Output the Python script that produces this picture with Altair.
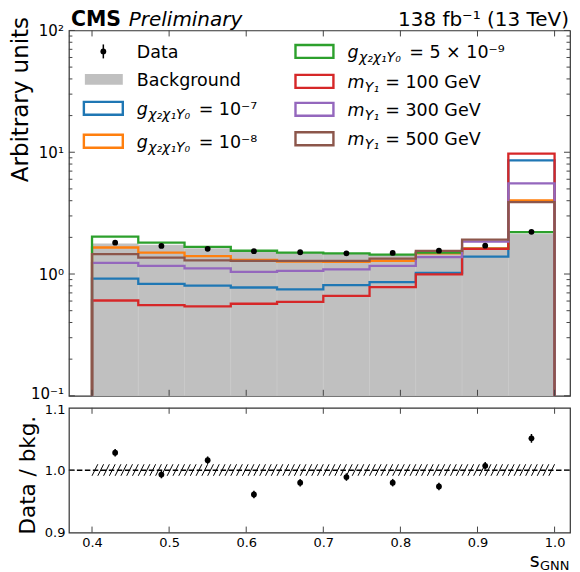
import altair as alt
import numpy as np
import pandas as pd

# ---------------- data ----------------
bin_edges = [0.40, 0.46, 0.52, 0.58, 0.64, 0.70, 0.76, 0.82, 0.88, 0.94, 1.00]
bin_centers = [0.43, 0.49, 0.55, 0.61, 0.67, 0.73, 0.79, 0.85, 0.91, 0.97]

background = [1.77, 1.73, 1.62, 1.52, 1.49, 1.47, 1.45, 1.48, 1.58, 2.13]
data_values = [1.81, 1.70, 1.61, 1.54, 1.51, 1.48, 1.49, 1.555, 1.71, 2.22]
data_errors = [0.010, 0.010, 0.009, 0.009, 0.009, 0.009, 0.009, 0.009, 0.010, 0.013]

ratio_values = [1.028, 0.993, 1.016, 0.961, 0.980, 0.989, 0.980, 0.974, 1.007, 1.051]
ratio_errors = [0.006, 0.006, 0.006, 0.006, 0.006, 0.006, 0.006, 0.006, 0.006, 0.007]
bkg_unc_band = [0.991, 1.0095]

sig_g_1e7 = [0.917, 0.831, 0.804, 0.775, 0.747, 0.811, 0.857, 1.024, 1.389, 8.57]
sig_g_1e8 = [1.651, 1.496, 1.405, 1.304, 1.266, 1.257, 1.280, 1.48, 1.62, 4.03]
sig_g_5e9 = [2.025, 1.812, 1.673, 1.553, 1.496, 1.477, 1.442, 1.496, 1.61, 2.21]
sig_m_100 = [0.606, 0.555, 0.542, 0.570, 0.591, 0.661, 0.781, 0.994, 1.612, 9.76]
sig_m_300 = [1.233, 1.167, 1.112, 1.043, 1.063, 1.091, 1.167, 1.379, 1.846, 5.55]
sig_m_500 = [1.458, 1.363, 1.297, 1.280, 1.280, 1.280, 1.339, 1.55, 1.915, 3.90]

signal_series = [sig_g_1e7, sig_g_1e8, sig_g_5e9, sig_m_100, sig_m_300, sig_m_500]
signal_colors = ["#1f77b4", "#ff7f0e", "#2ca02c", "#d62728", "#9467bd", "#8c564b"]

x_ticks = [0.4, 0.5, 0.6, 0.7, 0.8, 0.9, 1.0]
y_major_ticks = [0.1, 1, 10, 100]
y_tick_labels = ["10⁻¹", "10⁰", "10¹", "10²"]
y_minor_ticks = [m * d for d in (0.1, 1, 10) for m in range(2, 10)]
ratio_ticks = [0.9, 1.0, 1.1]

header_bold = "CMS"
header_italic = "Preliminary"
header_lumi = "138 fb⁻¹ (13 TeV)"
y_title_top = "Arbitrary units"
y_title_ratio = "Data / bkg."
x_title_main = "s"
x_title_sub = "GNN"

# legend entries: (symbol kind, color, pieces)
legend_col1 = [
    ("data", "black", [("Data",)]),
    ("fill", "#c0c0c0", [("Background",)]),
    ("box", signal_colors[0], [("g",), ("χ₂χ₁Υ₀",), ("= 10⁻⁷",)]),
    ("box", signal_colors[1], [("g",), ("χ₂χ₁Υ₀",), ("= 10⁻⁸",)]),
]
legend_col2 = [
    ("box", signal_colors[2], [("g",), ("χ₂χ₁Υ₀",), ("= 5 × 10⁻⁹",)]),
    ("box", signal_colors[3], [("m",), ("Υ₁",), ("= 100 GeV",)]),
    ("box", signal_colors[4], [("m",), ("Υ₁",), ("= 300 GeV",)]),
    ("box", signal_colors[5], [("m",), ("Υ₁",), ("= 500 GeV",)]),
]

# ---------------- layout ----------------
FONT = "DejaVu Sans"
W, H1, H2 = 502, 366, 125
L, T, T2 = 68, 29, 407        # page positions of plot areas
AX = "#444444"

def px(x):
    return x - L

def py(y):
    return y - T

xs = alt.Scale(domain=[0.37, 1.02], nice=False, zero=False)
ys = alt.Scale(type="log", domain=[0.1, 100], nice=False, clamp=True)
rs = alt.Scale(domain=[0.9, 1.1], nice=False, zero=False)

label_expr = "[" + ",".join("'%s'" % s for s in y_tick_labels) + "][round(log(datum.value)/LN10)+1]"

y_axis_top = alt.Axis(
    values=y_major_ticks, labelExpr=label_expr, ticks=True, tickSize=0, tickWidth=0, domain=False, grid=False,
    labelFontSize=15, labelPadding=5.5, labelColor="black", labelFont=FONT, labelOverlap=False,
    labelOffset={"condition": {"test": "datum.value < 0.5", "value": -2}, "value": 0},
    title=y_title_top, titleFontSize=23, titleFontWeight="normal", titleFont=FONT,
    titleColor="black", titleAngle=270, titleAlign="right", titleBaseline="bottom",
    titleX=-36.7, titleY=-14)
x_axis_ratio = alt.Axis(
    values=x_ticks, format=".1f", ticks=True, tickSize=0, tickWidth=0, domain=False, grid=False,
    labelFlush=False, labelFontSize=13, labelPadding=4, labelColor="black", labelFont=FONT, title=None)
y_axis_ratio = alt.Axis(
    values=ratio_ticks, format=".1f", ticks=True, tickSize=0, tickWidth=0, domain=False, grid=False,
    labelFontSize=13, labelPadding=4, labelColor="black", labelFont=FONT, labelOverlap=False,
    labelOffset={"condition": {"test": "datum.value > 1.05", "value": 2}, "value": 0},
    title=y_title_ratio, titleFontSize=21.5, titleFontWeight="normal", titleFont=FONT,
    titleColor="black", titleAngle=270, titleAlign="center", titleBaseline="bottom",
    titleX=-29.8, titleY=67)

one = pd.DataFrame({"a": [0]})

# ---------------- top panel ----------------
bkg_df = pd.DataFrame({"lo": bin_edges[:-1], "hi": bin_edges[1:], "v": background,
                       "floor": [0.1] * len(background)})

bkg_layer = alt.Chart(bkg_df).mark_rect(color="#c0c0c0", stroke="#cacaca", strokeWidth=0.6).encode(
    x=alt.X("lo:Q", scale=xs, axis=None),
    x2="hi:Q",
    y=alt.Y("v:Q", scale=ys, axis=y_axis_top),
    y2="floor:Q",
)

def step_df(vals, floor=0.1):
    xx = [bin_edges[0]]
    yy = [floor]
    for i, v in enumerate(vals):
        xx += [bin_edges[i], bin_edges[i + 1]]
        yy += [v, v]
    xx.append(bin_edges[-1])
    yy.append(floor)
    return pd.DataFrame({"x": xx, "v": yy, "o": list(range(len(xx)))})

line_layers = []
for vals, col in zip(signal_series, signal_colors):
    line_layers.append(
        alt.Chart(step_df(vals)).mark_line(color=col, strokeWidth=2.3, strokeJoin="miter").encode(
            x=alt.X("x:Q", scale=xs, axis=None),
            y=alt.Y("v:Q", scale=ys, axis=y_axis_top),
            order="o:Q",
        )
    )

pts_df = pd.DataFrame({"x": bin_centers, "v": data_values,
                       "lo": [v - e for v, e in zip(data_values, data_errors)],
                       "hi": [v + e for v, e in zip(data_values, data_errors)]})
data_err = alt.Chart(pts_df).mark_rule(color="black", strokeWidth=1.5).encode(
    x=alt.X("x:Q", scale=xs, axis=None), y=alt.Y("lo:Q", scale=ys, axis=y_axis_top), y2="hi:Q")
data_pts = alt.Chart(pts_df).mark_circle(color="black", size=34, opacity=1).encode(
    x=alt.X("x:Q", scale=xs, axis=None), y=alt.Y("v:Q", scale=ys, axis=y_axis_top))

def yticks(vals, scale, axis, x0, x1):
    return alt.Chart(pd.DataFrame({"v": vals})).mark_rule(color=AX, strokeWidth=1).encode(
        y=alt.Y("v:Q", scale=scale, axis=axis), x=alt.value(x0), x2=alt.value(x1))

def xticks(vals, axis, y0, y1):
    return alt.Chart(pd.DataFrame({"x": vals})).mark_rule(color=AX, strokeWidth=1).encode(
        x=alt.X("x:Q", scale=xs, axis=axis), y=alt.value(y0), y2=alt.value(y1))

top_ticks = [
    yticks(y_major_ticks, ys, y_axis_top, 0, 6), yticks(y_minor_ticks, ys, y_axis_top, 0, 3.5),
    yticks(y_major_ticks, ys, y_axis_top, W - 6, W), yticks(y_minor_ticks, ys, y_axis_top, W - 3.5, W),
    xticks(x_ticks, None, 0, 6), xticks(x_ticks, None, H1 - 6, H1),
]

# invisible corner marker pinning the drawing's top-left corner to the page margin
corner = alt.Chart(one).mark_rule(strokeOpacity=0, strokeWidth=0.1).encode(
    x=alt.value(px(8.05)), x2=alt.value(px(8.1)), y=alt.value(py(8.05)), y2=alt.value(py(8.1)))

def text_layer(txt, x, y, size, weight="normal", style="normal", align="left", color="black"):
    return alt.Chart(pd.DataFrame({"t": [txt]})).mark_text(
        font=FONT, fontSize=size, fontWeight=weight, fontStyle=style, align=align,
        baseline="alphabetic", color=color).encode(
        text="t:N", x=alt.value(x), y=alt.value(y))

header = [
    text_layer(header_bold, px(70), py(24.4), 20.5, weight="bold"),
    text_layer(header_italic, px(128), py(24.4), 20, style="italic"),
    text_layer(header_lumi, px(569), py(24.4), 20, align="right"),
]

legend_layers = []
def add_legend(entries, sym_x0, sym_x1, text_x, centers):
    for (kind, col, pieces), c in zip(entries, centers):
        if kind == "data":
            mid = (sym_x0 + sym_x1) / 2
            legend_layers.append(alt.Chart(one).mark_rule(color="black", strokeWidth=1.5).encode(
                x=alt.value(px(mid)), y=alt.value(py(c - 7)), y2=alt.value(py(c + 7))))
            legend_layers.append(alt.Chart(one).mark_circle(color="black", size=34, opacity=1).encode(
                x=alt.value(px(mid)), y=alt.value(py(c))))
        elif kind == "fill":
            legend_layers.append(alt.Chart(one).mark_rect(color=col).encode(
                x=alt.value(px(sym_x0 + 1)), x2=alt.value(px(sym_x1)),
                y=alt.value(py(c - 5.3)), y2=alt.value(py(c + 5.3))))
        else:
            legend_layers.append(alt.Chart(one).mark_rect(fillOpacity=0, stroke=col, strokeWidth=2.4).encode(
                x=alt.value(px(sym_x0)), x2=alt.value(px(sym_x1)),
                y=alt.value(py(c - 6.5)), y2=alt.value(py(c + 6.5))))
        if len(pieces) == 1:
            legend_layers.append(text_layer(pieces[0][0], px(text_x), py(c + 6.5), 17.5))
        else:
            main, sub, rest = pieces
            is_g = main[0] == "g"
            main_w = 11.5 if is_g else 17.5
            legend_layers.append(text_layer(main[0], px(text_x), py(c + 6.5), 17.5, style="italic"))
            legend_layers.append(text_layer(sub[0], px(text_x + main_w), py(c + 10.5), 14, style="italic"))
            rest_x = text_x + (62 if is_g else 38)
            legend_layers.append(text_layer(rest[0], px(rest_x), py(c + 6.5), 17.5))

add_legend(legend_col1, 83, 122, 136, [50, 78, 107, 140])
add_legend(legend_col2, 295, 333, 347, [50, 80, 108, 137.5])

top = alt.layer(bkg_layer, *line_layers, data_err, data_pts, *top_ticks, corner, *header,
                *legend_layers).properties(width=W, height=H1)

# ---------------- ratio panel ----------------
step = 0.0075
hx0 = np.arange(bin_edges[0], bin_edges[-1] - step + 1e-9, step)
hatch_df = pd.DataFrame({"x": hx0, "x1": hx0 + step,
                         "r": [bkg_unc_band[0]] * len(hx0), "r1": [bkg_unc_band[1]] * len(hx0)})
hatch = alt.Chart(hatch_df).mark_rule(color="black", strokeWidth=1).encode(
    x=alt.X("x:Q", scale=xs, axis=x_axis_ratio), x2="x1:Q",
    y=alt.Y("r:Q", scale=rs, axis=y_axis_ratio), y2="r1:Q")

unity = alt.Chart(pd.DataFrame({"r": [1.0]})).mark_rule(color="black", strokeWidth=1.4, strokeDash=[5.5, 2.5]).encode(
    y=alt.Y("r:Q", scale=rs, axis=y_axis_ratio), x=alt.value(0), x2=alt.value(W))

r_df = pd.DataFrame({"x": bin_centers, "r": ratio_values,
                     "lo": [v - e for v, e in zip(ratio_values, ratio_errors)],
                     "hi": [v + e for v, e in zip(ratio_values, ratio_errors)]})
r_err = alt.Chart(r_df).mark_rule(color="black", strokeWidth=1.5).encode(
    x=alt.X("x:Q", scale=xs, axis=x_axis_ratio), y=alt.Y("lo:Q", scale=rs, axis=y_axis_ratio), y2="hi:Q")
r_pts = alt.Chart(r_df).mark_circle(color="black", size=34, opacity=1).encode(
    x=alt.X("x:Q", scale=xs, axis=x_axis_ratio),
    y=alt.Y("r:Q", scale=rs, axis=y_axis_ratio),
)

ratio_tick_layers = [
    yticks([1.0], rs, y_axis_ratio, 0, 6), yticks([1.0], rs, y_axis_ratio, W - 6, W),
    xticks(x_ticks, x_axis_ratio, 0, 6), xticks(x_ticks, x_axis_ratio, H2 - 6, H2),
]

xt = [
    text_layer(x_title_main, 471.5, 566 - T2, 19, align="right"),
    text_layer(x_title_sub, 501.5, 569 - T2, 13, align="right"),
]

bottom = alt.layer(hatch, unity, r_err, r_pts, *ratio_tick_layers, *xt).properties(width=W, height=H2)

chart = alt.vconcat(top, bottom, spacing=12, bounds="flush").properties(
    padding={"left": 0, "top": 0, "right": 0, "bottom": 0}
).configure(font=FONT).configure_view(stroke="#333333", strokeWidth=1.2)

chart.save("out.html", embed_options={"renderer": "svg", "actions": False})
